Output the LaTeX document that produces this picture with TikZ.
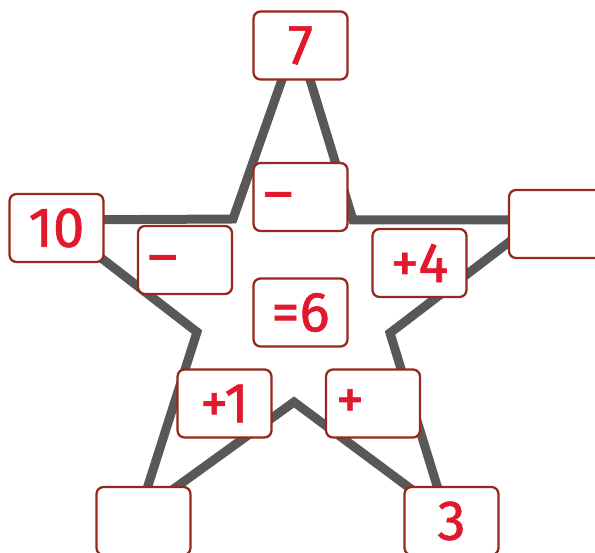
\documentclass[tikz,border=0pt]{standalone}
\usepackage{fontspec}
\setmainfont{Fira Sans}
\newfontfamily\inkfont{Fira Sans}[FakeBold=1.2,Ligatures=TeX]
\usetikzlibrary{backgrounds}
\definecolor{cLine}{RGB}{88,88,88}
\definecolor{cFrame}{RGB}{150,40,30}
\definecolor{cInk}{RGB}{225,25,45}
\newcommand{\opsign}[1]{\makebox[1.48cm][l]{#1}}
\tikzset{
  cardbox/.style={rectangle,rounded corners=4pt,draw=cFrame,line width=1.3pt,
                  fill=white,minimum width=1.88cm,minimum height=1.36cm,
                  inner sep=0pt,text=cInk,font=\inkfont\fontsize{32}{36}\selectfont},
  opbox/.style={cardbox,text height=17pt,text depth=0pt},
  starline/.style={draw=cLine,line width=0.18cm,line join=miter}
}

\begin{document}
\begin{tikzpicture}[x=0.02cm,y=-0.02cm]

  \clip (0,0) rectangle (595,553);

  % Outer boxes
  \node[cardbox] (top)   at (300.5,45.5) {7};
  \node[cardbox] (left)  at (56.5,228)   {10};
  \node[cardbox] (right) at (556,224)    {};
  \node[cardbox] (botl)  at (143.5,521)  {};
  \node[cardbox] (botr)  at (451.5,521)  {3};

  % Inner boxes
  \node[opbox]   (optop)  at (300.5,197)   {\opsign{–}};
  \node[opbox]   (opleft) at (185,260)     {\opsign{–}};
  \node[cardbox] (opfour) at (419.5,263)   {+4};
  \node[cardbox] (result) at (300.5,312.5) {=6};
  \node[cardbox] (opone)  at (224.5,403.5) {+1};
  \node[opbox]   (opplus) at (373,403.5)   {\opsign{+}};

  % Star corners
  \coordinate (tipN)  at (297,37);
  \coordinate (tipE)  at (538,220);
  \coordinate (tipSE) at (446,515);
  \coordinate (tipSW) at (139,514);
  \coordinate (tipW)  at (52,220);
  \coordinate (inNE)  at (353,220);
  \coordinate (inE)   at (390,333);
  \coordinate (inS)   at (294,402);
  \coordinate (inW)   at (197,332);
  \coordinate (inNW)  at (233,219);

  \begin{pgfonlayer}{background}
    \draw[starline] (tipN) -- (inNE) -- (tipE) -- (inE) -- (tipSE) -- (inS)
        -- (tipSW) -- (inW) -- (tipW) -- (inNW) -- cycle;
  \end{pgfonlayer}

\end{tikzpicture}
\end{document}
